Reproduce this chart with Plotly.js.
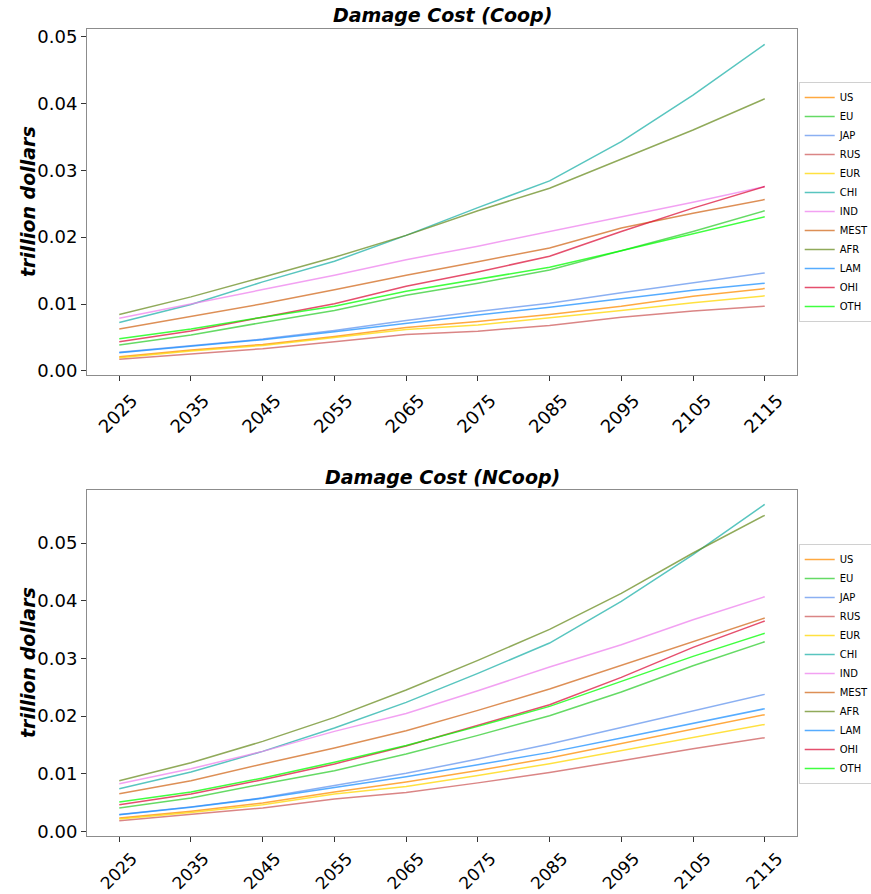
<!DOCTYPE html>
<html>
<head>
<meta charset="utf-8">
<script src="https://cdn.plot.ly/plotly-3.0.1.min.js"></script>
<style>html,body{margin:0;padding:0;background:#fff;}#chart{width:871px;height:894px;}</style>
</head>
<body>
<div id="chart"></div>
<script>
var years = [2025, 2035, 2045, 2055, 2065, 2075, 2085, 2095, 2105, 2115];
var regions = ["US", "EU", "JAP", "RUS", "EUR", "CHI", "IND", "MEST", "AFR", "LAM", "OHI", "OTH"];
var colors = ["rgba(255,140,0,0.75)", "rgba(50,205,50,0.75)", "rgba(100,149,237,0.75)", "rgba(205,92,92,0.75)",
              "rgba(255,215,0,0.75)", "rgba(32,178,170,0.75)", "rgba(238,130,238,0.75)", "rgba(210,105,30,0.75)",
              "rgba(107,142,35,0.75)", "rgba(30,144,255,0.75)", "rgba(220,20,60,0.75)", "rgba(0,255,0,0.75)"];

// Damage Cost (Coop), trillion dollars
var coopUS   = [0.00213, 0.00313, 0.00397, 0.00516, 0.00650, 0.00740, 0.00844, 0.00968, 0.01117, 0.01231];
var coopEU   = [0.00387, 0.00536, 0.00725, 0.00904, 0.01132, 0.01310, 0.01509, 0.01797, 0.02085, 0.02393];
var coopJAP  = [0.00278, 0.00375, 0.00476, 0.00606, 0.00755, 0.00887, 0.01013, 0.01167, 0.01316, 0.01465];
var coopRUS  = [0.00174, 0.00258, 0.00333, 0.00437, 0.00546, 0.00595, 0.00680, 0.00804, 0.00894, 0.00968];
var coopEUR  = [0.00199, 0.00298, 0.00382, 0.00497, 0.00621, 0.00685, 0.00790, 0.00904, 0.01018, 0.01122];
var coopCHI  = [0.00725, 0.00993, 0.01331, 0.01639, 0.02026, 0.02440, 0.02840, 0.03426, 0.04121, 0.04881];
var coopIND  = [0.00789, 0.00998, 0.01216, 0.01430, 0.01663, 0.01865, 0.02085, 0.02294, 0.02522, 0.02756];
var coopMEST = [0.00626, 0.00809, 0.01003, 0.01212, 0.01430, 0.01632, 0.01837, 0.02135, 0.02358, 0.02562];
var coopAFR  = [0.00844, 0.01107, 0.01400, 0.01698, 0.02026, 0.02395, 0.02731, 0.03163, 0.03600, 0.04067];
var coopLAM  = [0.00273, 0.00370, 0.00468, 0.00586, 0.00715, 0.00837, 0.00953, 0.01082, 0.01207, 0.01311];
var coopOHI  = [0.00437, 0.00596, 0.00804, 0.01003, 0.01266, 0.01480, 0.01713, 0.02085, 0.02433, 0.02756];
var coopOTH  = [0.00482, 0.00626, 0.00804, 0.00968, 0.01192, 0.01368, 0.01549, 0.01797, 0.02046, 0.02304];

// Damage Cost (NCoop), trillion dollars
var ncoopUS   = [0.00231, 0.00347, 0.00491, 0.00682, 0.00857, 0.01055, 0.01272, 0.01526, 0.01780, 0.02023];
var ncoopEU   = [0.00405, 0.00578, 0.00821, 0.01052, 0.01343, 0.01665, 0.02006, 0.02416, 0.02873, 0.03289];
var ncoopJAP  = [0.00292, 0.00425, 0.00582, 0.00792, 0.01008, 0.01254, 0.01514, 0.01803, 0.02092, 0.02376];
var ncoopRUS  = [0.00185, 0.00289, 0.00405, 0.00561, 0.00676, 0.00841, 0.01023, 0.01225, 0.01434, 0.01624];
var ncoopEUR  = [0.00214, 0.00329, 0.00462, 0.00647, 0.00780, 0.00968, 0.01173, 0.01399, 0.01630, 0.01855];
var ncoopCHI  = [0.00740, 0.01029, 0.01387, 0.01792, 0.02237, 0.02740, 0.03266, 0.03988, 0.04800, 0.05670];
var ncoopIND  = [0.00827, 0.01087, 0.01387, 0.01734, 0.02043, 0.02439, 0.02850, 0.03237, 0.03671, 0.04069];
var ncoopMEST = [0.00653, 0.00879, 0.01168, 0.01445, 0.01746, 0.02098, 0.02468, 0.02879, 0.03295, 0.03699];
var ncoopAFR  = [0.00879, 0.01191, 0.01561, 0.01977, 0.02451, 0.02965, 0.03503, 0.04127, 0.04827, 0.05480];
var ncoopLAM  = [0.00289, 0.00418, 0.00574, 0.00763, 0.00949, 0.01156, 0.01370, 0.01618, 0.01873, 0.02127];
var ncoopOHI  = [0.00462, 0.00647, 0.00896, 0.01170, 0.01480, 0.01832, 0.02197, 0.02670, 0.03191, 0.03647];
var ncoopOTH  = [0.00509, 0.00682, 0.00925, 0.01200, 0.01491, 0.01821, 0.02168, 0.02601, 0.03035, 0.03434];

var coopSeries  = [coopUS, coopEU, coopJAP, coopRUS, coopEUR, coopCHI, coopIND, coopMEST, coopAFR, coopLAM, coopOHI, coopOTH];
var ncoopSeries = [ncoopUS, ncoopEU, ncoopJAP, ncoopRUS, ncoopEUR, ncoopCHI, ncoopIND, ncoopMEST, ncoopAFR, ncoopLAM, ncoopOHI, ncoopOTH];

var FONT = "DejaVu Sans, sans-serif";
var traces = [];
regions.forEach(function (r, i) {
  traces.push({x: years, y: coopSeries[i], name: r, type: "scatter", mode: "lines",
    line: {color: colors[i], width: 1.5}, xaxis: "x", yaxis: "y", legend: "legend"});
});
regions.forEach(function (r, i) {
  traces.push({x: years, y: ncoopSeries[i], name: r, type: "scatter", mode: "lines",
    line: {color: colors[i], width: 1.5}, xaxis: "x2", yaxis: "y2", legend: "legend2"});
});

function xax(anchor, standoff, size) {
  return {anchor: anchor, domain: [0, 1], range: [2020.5, 2119.5], tickvals: years, tickangle: -45,
    ticklabelshift: 13, ticklabelstandoff: standoff,
    tickfont: {family: FONT, size: size, color: "#000"}, showline: true, mirror: true, linecolor: "#8c8c8c",
    linewidth: 1, ticks: "outside", ticklen: 5, tickcolor: "#333", showgrid: false, zeroline: false, automargin: false};
}
function yax(anchor, domain, range) {
  return {anchor: anchor, domain: domain, range: range, dtick: 0.01, tick0: 0, tickformat: ".2f",
    tickfont: {family: FONT, size: 18, color: "#000"}, showline: true, mirror: true, linecolor: "#8c8c8c",
    linewidth: 1, ticks: "outside", ticklen: 5, tickcolor: "#333", showgrid: false, zeroline: false, automargin: false};
}
var legendBase = {xref: "container", yref: "container", x: 0.917, xanchor: "left", yanchor: "middle",
  font: {family: FONT, size: 10, color: "#000"},
  bgcolor: "#fff", bordercolor: "#d0d0d0", borderwidth: 1, tracegroupgap: 0};

var layout = {
  width: 871, height: 894,
  margin: {l: 87, r: 74, t: 29, b: 58},
  paper_bgcolor: "#fff", plot_bgcolor: "#fff",
  showlegend: true,
  xaxis: xax("y", 2, 18),
  yaxis: yax("x", [0.5713, 1], [-0.0006, 0.0511]),
  xaxis2: xax("y2", 0, 17),
  yaxis2: yax("x2", [0, 0.4288], [-0.0008, 0.0592]),
  legend: Object.assign({}, legendBase, {y: 0.774}),
  legend2: Object.assign({}, legendBase, {y: 0.2573}),
  annotations: [
    {text: "<b><i>Damage Cost (Coop)</i></b>", xref: "paper", yref: "paper", x: 0.5, y: 1.0173,
      xanchor: "center", yanchor: "middle", showarrow: false, font: {family: FONT, size: 19, color: "#000"}},
    {text: "<b><i>Damage Cost (NCoop)</i></b>", xref: "paper", yref: "paper", x: 0.5, y: 0.4449,
      xanchor: "center", yanchor: "middle", showarrow: false, font: {family: FONT, size: 19, color: "#000"}},
    {text: "<b><i>trillion dollars</i></b>", xref: "paper", yref: "paper", x: -0.083, y: 0.7856, textangle: -90,
      xanchor: "center", yanchor: "middle", showarrow: false, font: {family: FONT, size: 19, color: "#000"}},
    {text: "<b><i>trillion dollars</i></b>", xref: "paper", yref: "paper", x: -0.083, y: 0.2144, textangle: -90,
      xanchor: "center", yanchor: "middle", showarrow: false, font: {family: FONT, size: 19, color: "#000"}}
  ]
};

Plotly.newPlot("chart", traces, layout, {displayModeBar: false, staticPlot: true});
</script>
</body>
</html>
